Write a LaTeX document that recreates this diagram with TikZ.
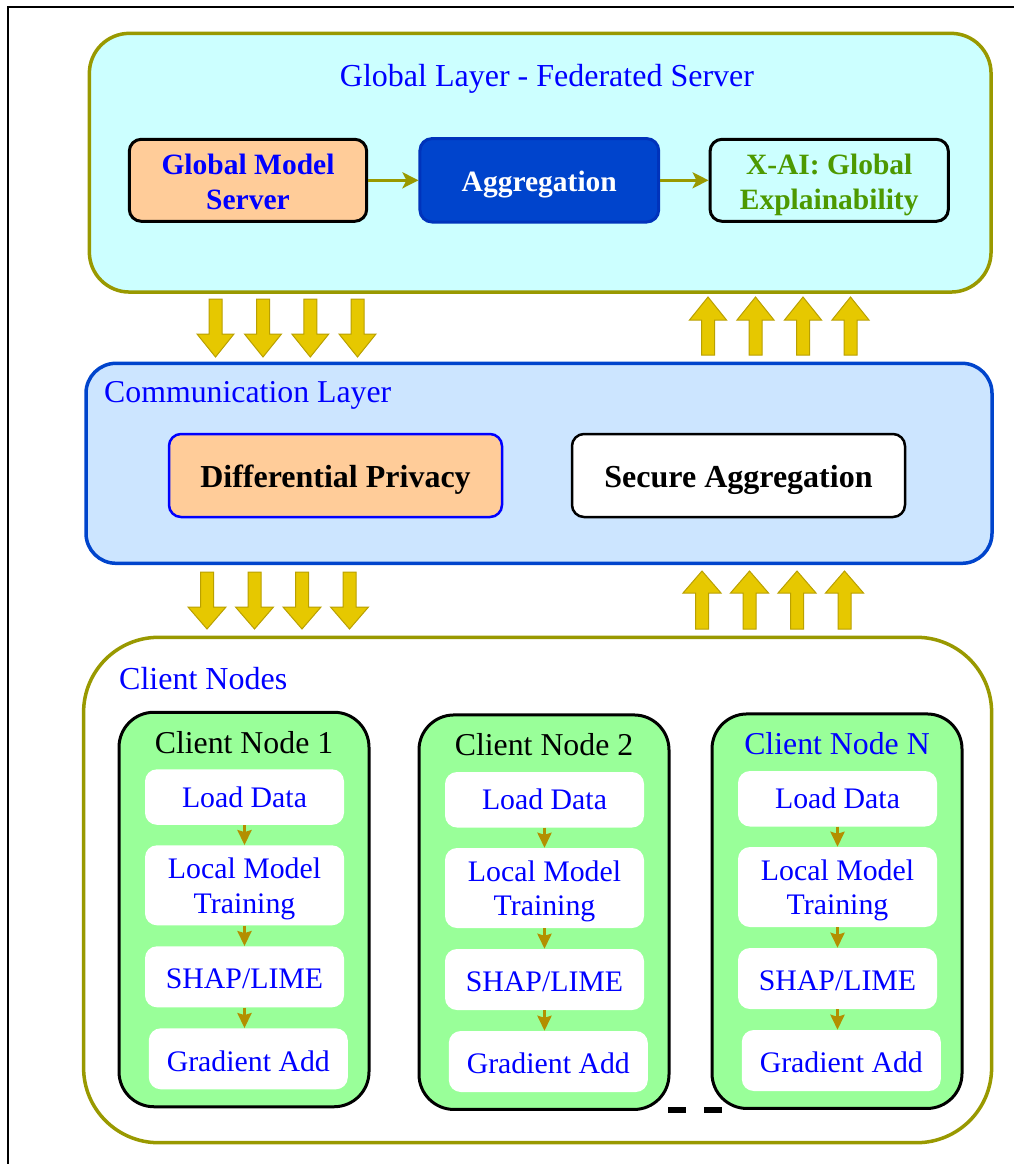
\documentclass[tikz,border=0pt]{standalone}
\usepackage{fontspec}
\setmainfont{Liberation Serif}
\usetikzlibrary{arrows.meta}

\definecolor{srvborder}{RGB}{153,153,0}
\definecolor{srvfill}{RGB}{204,255,255}
\definecolor{comfill}{RGB}{204,229,255}
\definecolor{comborder}{RGB}{0,68,204}
\definecolor{peach}{RGB}{255,204,153}
\definecolor{aggfill}{RGB}{0,68,204}
\definecolor{aggborder}{RGB}{0,51,187}
\definecolor{xaigreen}{RGB}{77,153,0}
\definecolor{pureblue}{RGB}{0,0,255}
\definecolor{arrowgold}{RGB}{230,200,0}
\definecolor{arrowedge}{RGB}{185,160,0}
\definecolor{clientfill}{RGB}{153,255,153}
\definecolor{stepgold}{RGB}{179,143,0}

\begin{document}
\begin{tikzpicture}[x=1pt,y=-1pt,
  layer/.style={draw, line width=3.5pt, inner sep=0pt},
  srvbox/.style={draw, line width=3pt, rounded corners=12pt, inner sep=0pt},
  srvtext/.style={inner sep=0pt, align=center, font=\bfseries\fontsize{29.5}{35}\selectfont},
  combox/.style={draw, line width=2.5pt, rounded corners=12pt, inner sep=0pt,
    minimum width=333pt, minimum height=83pt},
  comtext/.style={inner sep=0pt, font=\bfseries\fontsize{32}{37}\selectfont},
  client/.style={draw=black, fill=clientfill, line width=3pt, rounded corners=35pt,
    minimum width=250pt, minimum height=394.5pt, inner sep=0pt},
  stepbox/.style={fill=white, rounded corners=12pt, minimum width=199pt, inner sep=0pt},
  steptext/.style={inner sep=0pt, align=center, text=pureblue,
    font=\fontsize{29.8}{34.7}\selectfont},
  steparrow/.style={draw=stepgold, line width=3pt, -{Stealth[length=15pt,width=14pt,inset=2pt]}},
  flowarrow/.style={draw=srvborder, line width=3pt, -{Stealth[length=16pt,width=16pt,inset=4pt]}},
  blockarrow/.style={fill=arrowgold, draw=arrowedge, line width=1pt, line join=miter},
  title/.style={inner sep=0pt, text=pureblue}
]
\useasboundingbox (0,0) rectangle (1014,1164);

% outer frame (open to the right and bottom)
\draw[line width=2pt, line join=miter] (1014,6.7) -- (8.3,6.7) -- (8.3,1164);

% ---------- global layer ----------
\node[layer, draw=srvborder, fill=srvfill, rounded corners=40pt,
  minimum width=901.7pt, minimum height=258.7pt] (global) at (540.2,162.7) {};
\node[title, anchor=base, font=\fontsize{32}{38}\selectfont] (globaltitle) at (547,86)
  {Global Layer - Federated Server};

\node[srvbox, fill=peach, draw=black,
  minimum width=237.4pt, minimum height=82pt] (gms) at (248,180.3) {};
\node[srvtext, text=pureblue] (gms-text) at ([yshift=-1.8pt]gms.center) {Global Model\\Server};
\node[srvbox, fill=aggfill, draw=aggborder,
  minimum width=238.7pt, minimum height=83.4pt] (agg) at (539.3,180.3) {};
\node[srvtext, text=white] (agg-text) at ([yshift=-3.8pt]agg.center) {Aggregation};
\node[srvbox, fill=srvfill, draw=black,
  minimum width=238.3pt, minimum height=82pt] (xai) at (829.2,180.3) {};
\node[srvtext, text=xaigreen] (xai-text) at ([yshift=-4.3pt]xai.center) {X-AI: Global\\Explainability};

\draw[flowarrow] (gms) -- (agg);
\draw[flowarrow] (agg) -- (xai);

% ---------- arrows between global and communication layers ----------
\foreach \c in {215.5,263,310.3,357.5}
  \path[blockarrow] (\c-6.5,299) -- (\c+6.5,299) -- (\c+6.5,334) -- (\c+18.5,334)
    -- (\c,357) -- (\c-18.5,334) -- (\c-6.5,334) -- cycle;
\foreach \c in {708,755.5,803,850.5}
  \path[blockarrow] (\c-6.5,355) -- (\c+6.5,355) -- (\c+6.5,320) -- (\c+18.5,320)
    -- (\c,297) -- (\c-18.5,320) -- (\c-6.5,320) -- cycle;

% ---------- communication layer ----------
\node[layer, draw=comborder, fill=comfill, rounded corners=30pt,
  minimum width=906pt, minimum height=200pt] (comm) at (539,463.3) {};
\node[title, anchor=base west, font=\fontsize{31.8}{36}\selectfont] (commtitle) at (104,402)
  {Communication Layer};
\node[combox, fill=peach, draw=pureblue] (dp) at (335.5,475.5) {};
\node[comtext] (dp-text) at ([yshift=-4pt]dp.center) {Differential Privacy};
\node[combox, fill=white, draw=black] (sa) at (738.5,475.5) {};
\node[comtext] (sa-text) at ([yshift=-4pt]sa.center) {Secure Aggregation};

% ---------- arrows between communication layer and clients ----------
\foreach \c in {207,254.5,302,349.5}
  \path[blockarrow] (\c-6.5,572) -- (\c+6.5,572) -- (\c+6.5,607) -- (\c+19,607)
    -- (\c,629) -- (\c-19,607) -- (\c-6.5,607) -- cycle;
\foreach \c in {702,749.5,797,844.5}
  \path[blockarrow] (\c-6.5,629) -- (\c+6.5,629) -- (\c+6.5,593) -- (\c+19,593)
    -- (\c,571) -- (\c-19,593) -- (\c-6.5,593) -- cycle;

% ---------- client nodes ----------
\node[layer, draw=srvborder, fill=white, rounded corners=75pt,
  minimum width=908pt, minimum height=505.4pt] (clients) at (537.6,890) {};
\node[title, anchor=base west, font=\fontsize{32}{38}\selectfont] (clientstitle) at (119,689.3)
  {Client Nodes};

\foreach \L/\T/\n/\lab/\col in {119/712.3/1/Client Node 1/black,
                                419/715/2/Client Node 2/black,
                                712/714/3/Client Node N/pureblue} {
  \node[client] (c\n) at (\L+125,\T+197.2) {};
  \node[inner sep=0pt, anchor=base, text=\col, font=\fontsize{31.8}{36}\selectfont]
    (c\n-title) at (\L+125,\T+40.7) {\lab};
  \node[stepbox, minimum height=55.5pt] (c\n-load) at (\L+125.5,\T+84.75) {};
  \node[steptext] at (c\n-load.center) {Load Data};
  \node[stepbox, minimum height=80pt] (c\n-train) at (\L+125.5,\T+173) {};
  \node[steptext] at ([yshift=-3.5pt]c\n-train.center) {Local Model\\Training};
  \node[stepbox, minimum height=61pt] (c\n-shap) at (\L+125.5,\T+264.5) {};
  \node[steptext] at ([yshift=-2pt]c\n-shap.center) {SHAP/LIME};
  \node[stepbox, minimum height=61pt] (c\n-grad) at (\L+129.3,\T+346.5) {};
  \node[steptext] at ([yshift=-2pt]c\n-grad.center) {Gradient Add};
  \draw[steparrow] (c\n-load) -- (c\n-train);
  \draw[steparrow] (c\n-train) -- (c\n-shap);
  \draw[steparrow] (c\n-shap.south) -- (c\n-shap.south |- c\n-grad.north);
}

% ellipsis between the second and the last client
\fill (668.3,1106.7) rectangle (686,1112.7);
\fill (704,1106.7) rectangle (721.7,1112.7);

\end{tikzpicture}
\end{document}
